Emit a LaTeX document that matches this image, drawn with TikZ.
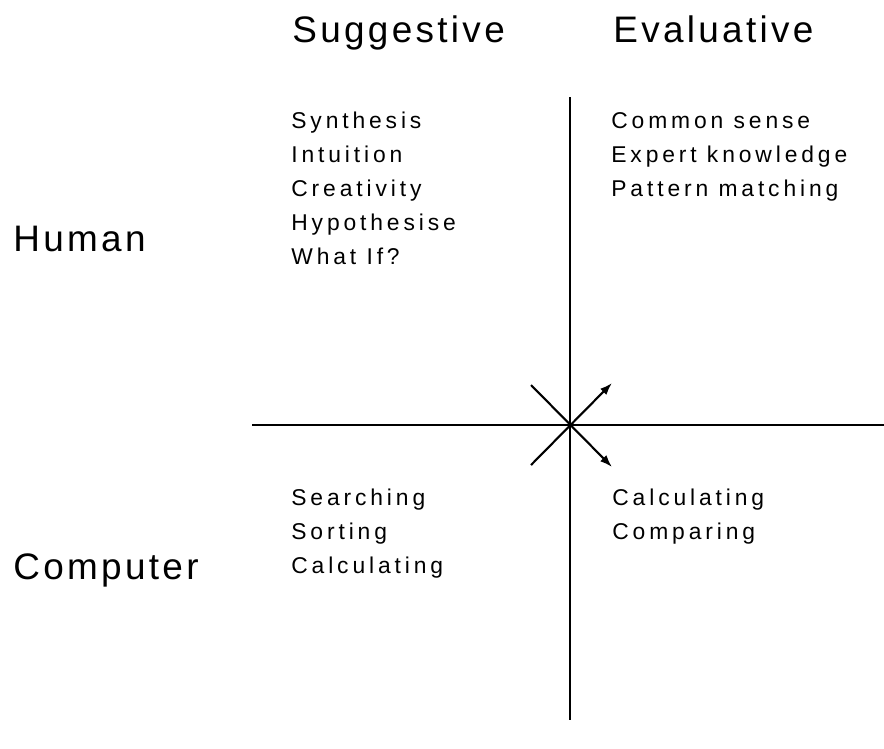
\documentclass[tikz,border=0pt]{standalone}
\usepackage{fontspec}
\setmainfont{Liberation Sans}
\usepackage{tikz}
\usetikzlibrary{arrows.meta}

\begin{document}
\begin{tikzpicture}[
      x=0.02cm, y=-0.02cm,
      col_lbl/.style={font=\fontsize{21}{25}\selectfont\addfontfeature{LetterSpace=9}, anchor=base west, inner sep=0pt},
      row_lbl/.style={col_lbl},
      item_lbl/.style={font=\fontsize{13}{15}\selectfont\addfontfeature{LetterSpace=17}, anchor=base west, inner sep=0pt},
      axis_line/.style={line width=1.3pt},
      dir_line/.style={line width=1.2pt}
  ]

  \useasboundingbox (0, 0) rectangle (884, 748);

  % 1. Intestazioni di colonna e di riga
  \node[col_lbl] (sugg) at (292, 42) {Suggestive};
  \node[col_lbl] (eval) at (613, 42) {Evaluative};
  \node[row_lbl] (human) at (13, 251) {Human};
  \node[row_lbl] (comp)  at (13, 579) {Computer};

  % 2. Assi
  \coordinate (o) at (570, 425);
  \coordinate (ax_top) at (570, 97);
  \coordinate (ax_bot) at (570, 720);
  \coordinate (ax_left) at (252, 425);
  \coordinate (ax_right) at (884, 425);
  \draw[axis_line] (ax_top) -- (ax_bot);
  \draw[axis_line] (ax_left) -- (ax_right);

  % 3. Diagonali con frecce
  \coordinate (d_nw) at (531, 385);
  \coordinate (d_sw) at (531, 465);
  \coordinate (d_ne) at (612, 383);
  \coordinate (d_se) at (612, 467);
  \draw[dir_line, -{Latex[length=7pt, width=5pt]}] (d_nw) -- (d_se);
  \draw[dir_line, -{Latex[length=7pt, width=5pt]}] (d_sw) -- (d_ne);

  % 4. Voci dei quadranti
  \foreach \txt [count=\i] in {Synthesis, Intuition, Creativity, Hypothesise, What If?}
    \node[item_lbl] (hs\i) at (291, 94 + 34*\i) {\txt};
  \foreach \txt [count=\i] in {Common sense, Expert knowledge, Pattern matching}
    \node[item_lbl] (he\i) at (611, 94 + 34*\i) {\txt};
  \foreach \txt [count=\i] in {Searching, Sorting, Calculating}
    \node[item_lbl] (cs\i) at (291, 471 + 34*\i) {\txt};
  \foreach \txt [count=\i] in {Calculating, Comparing}
    \node[item_lbl] (ce\i) at (612, 471 + 34*\i) {\txt};

\end{tikzpicture}
\end{document}
